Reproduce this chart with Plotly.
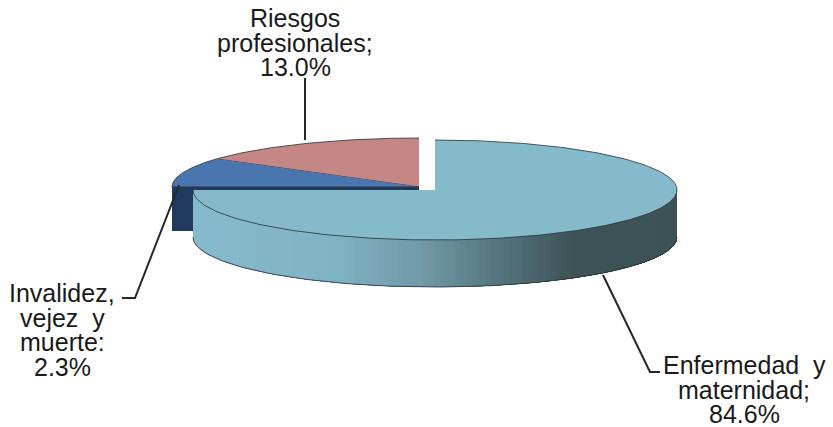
import numpy as np
import plotly.graph_objects as go

categories = [["Enfermedad  y", "maternidad;"], ["Invalidez,", "vejez  y", "muerte:"], ["Riesgos", "profesionales;"]]
label_percent = [84.6, 2.3, 13.0]
# share of the turn each slice occupies as drawn in the picture
drawn_share = [75.0, 9.7, 15.3]

W, H = 833, 427
MAIN_C = (435, 190)
REST_C = (419, 187)
RX_MAIN, RY_MAIN = 242, 50
RX_REST, RY_REST = 247, 49
DEPTH = 47
EDGE = "rgba(40,50,55,0.8)"
TOP = ["#85BACB", "#4A76B0", "#C58785"]
NAVY = "#1F3A5E"

stops_x = [193, 330, 420, 500, 570, 677]
stops_rgb = np.array([[134, 187, 205], [128, 180, 196], [112, 153, 167],
                      [84, 116, 124], [61, 83, 87], [61, 83, 87]], float)


def side_color(x):
    return "rgb(%d,%d,%d)" % tuple(np.interp(x, stops_x, stops_rgb[:, i]) for i in range(3))


def arc(c, rx, ry, a0, a1, n=120, dy=0):
    t = np.radians(np.linspace(a0, a1, n))
    return c[0] + rx * np.sin(t), c[1] + dy - ry * np.cos(t)


def poly(fig, x, y, fill, line=None, width=1):
    fig.add_trace(go.Scatter(
        x=list(x), y=list(y), mode="lines", fill="toself", fillcolor=fill,
        line=dict(color=line if line else fill, width=width if line else 0),
        hoverinfo="skip", showlegend=False))


def line(fig, x, y):
    fig.add_trace(go.Scatter(x=x, y=y, mode="lines", line=dict(color="#262626", width=2),
                             hoverinfo="skip", showlegend=False))


edges = np.cumsum([0] + drawn_share) / sum(drawn_share) * 360
fig = go.Figure()

# side of the small slice, with its thin dark strip under the top face
poly(fig, [172, 419, 419, 195, 195, 172], [187, 187, 190, 190, 231, 231], NAVY)

# rose slice
ax, ay = arc(REST_C, RX_REST, RY_REST, edges[2], edges[3])
poly(fig, np.r_[REST_C[0], ax], np.r_[REST_C[1], ay], TOP[2], EDGE)
# blue slice
ax, ay = arc(REST_C, RX_REST, RY_REST, edges[1], edges[2])
poly(fig, np.r_[REST_C[0], ax], np.r_[REST_C[1], ay], TOP[1], EDGE)

# side band of main slice: each strip runs on to the far end and is painted over the last
th = np.linspace(edges[1], 90, 121)
for a0 in th[:-1]:
    xt, yt = arc(MAIN_C, RX_MAIN, RY_MAIN, a0, 90, n=60)
    xb, yb = arc(MAIN_C, RX_MAIN, RY_MAIN, 90, a0, n=60, dy=DEPTH)
    poly(fig, np.r_[xt, xb], np.r_[yt, yb], side_color(xt[0]))
xb, yb = arc(MAIN_C, RX_MAIN, RY_MAIN, 90, edges[1], dy=DEPTH)
fig.add_trace(go.Scatter(x=list(xb), y=list(yb), mode="lines", line=dict(color=EDGE, width=1),
                         hoverinfo="skip", showlegend=False))
# main slice top
ax, ay = arc(MAIN_C, RX_MAIN, RY_MAIN, edges[0], edges[1], n=300)
poly(fig, np.r_[MAIN_C[0], ax, MAIN_C[0]], np.r_[MAIN_C[1], ay, MAIN_C[1]], TOP[0])
fig.add_trace(go.Scatter(x=list(ax), y=list(ay), mode="lines", line=dict(color=EDGE, width=1),
                         hoverinfo="skip", showlegend=False))

# leader lines
line(fig, [305, 305], [140, 78])
line(fig, [179, 135, 122], [185, 298, 298])
line(fig, [603, 650, 660], [275, 372, 372])

# labels, one annotation per line so the tight line pitch can be kept
label_pos = [(744, 365), (62, 293), (295, 18)]
PITCH = 24.5
for cat, pct, (lx, ly) in zip(categories, label_percent, label_pos):
    for i, txt in enumerate(cat + [f"{pct:.1f}%"]):
        fig.add_annotation(x=lx, y=ly + i * PITCH, text=txt, showarrow=False,
                           align="center", xanchor="center", yanchor="middle",
                           font=dict(family="Liberation Sans", size=25, color="#1a1a1a"))

fig.update_layout(
    width=W, height=H, margin=dict(l=0, r=0, t=0, b=0),
    paper_bgcolor="white", plot_bgcolor="white", showlegend=False,
    xaxis=dict(range=[0, W], visible=False, fixedrange=True),
    yaxis=dict(range=[H, 0], visible=False, fixedrange=True),
)
fig.write_html("out.html", post_script="document.body.style.margin='0';", config={"displayModeBar": False})
